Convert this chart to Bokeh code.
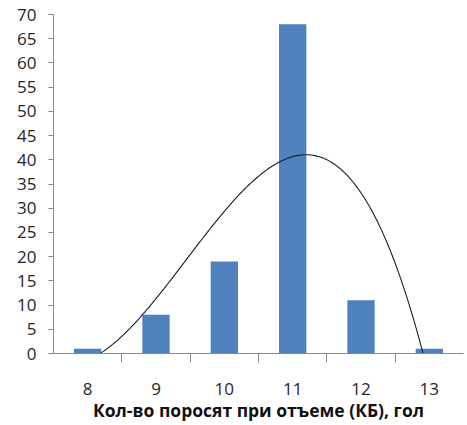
import numpy as np
from bokeh.plotting import figure
from bokeh.models import FixedTicker, Range1d
from bokeh.embed import file_html
from bokeh.resources import INLINE

# Data
piglets = [8, 9, 10, 11, 12, 13]          # categories (number of piglets at weaning)
counts = [1, 8, 19, 68, 11, 1]            # bar heights
y_ticks = [0, 5, 10, 15, 20, 25, 30, 35, 40, 45, 50, 55, 60, 65, 70]
x_label = "Кол-во поросят при отъеме (КБ), гол"

p = figure(width=467, height=425, output_backend="svg", toolbar_location=None,
           x_range=Range1d(7.5, 13.5), y_range=Range1d(0, 70),
           min_border_left=53, min_border_right=4, min_border_top=14,
           min_border_bottom=72)
p.outline_line_color = None
p.xgrid.visible = False
p.ygrid.visible = False
p.styles = {"outline": "2px solid #8c8c8c", "outline-offset": "-3px"}

p.vbar(x=piglets, top=counts, width=0.4, fill_color="#4F81BD", line_color=None)

# polynomial (3rd order) trendline of the bar data, as in the original chart
coef = np.polyfit(piglets, counts, 3)
xs = np.linspace(piglets[0], piglets[-1], 300)
p.line(xs, np.polyval(coef, xs), line_color="#1c1c2c", line_width=1.1)

axis_col = "#8a8a8a"
label_col = "#262626"

xa = p.xaxis[0]
xa.ticker = FixedTicker(ticks=piglets, minor_ticks=[v + 0.5 for v in piglets[:-1]])
xa.axis_line_color = axis_col
xa.major_tick_out = 0
xa.major_tick_in = 0
xa.minor_tick_out = 9
xa.minor_tick_in = 0
xa.minor_tick_line_color = axis_col
xa.major_label_text_font = "Open Sans"
xa.major_label_text_font_size = "17px"
xa.major_label_text_color = label_col
xa.major_label_standoff = 20
xa.axis_label = x_label
xa.axis_label_text_font = "Open Sans"
xa.axis_label_text_font_style = "bold"
xa.axis_label_text_font_size = "17.5px"
xa.axis_label_text_color = "#111111"
xa.axis_label_standoff = 0

ya = p.yaxis[0]
ya.ticker = FixedTicker(ticks=y_ticks, minor_ticks=[])
ya.axis_line_color = axis_col
ya.major_tick_out = 5
ya.major_tick_in = 0
ya.major_tick_line_color = axis_col
ya.minor_tick_out = 0
ya.minor_tick_in = 0
ya.major_label_text_font = "Open Sans"
ya.major_label_text_font_size = "17px"
ya.major_label_text_color = label_col
ya.major_label_standoff = 12

open("out.html", "w").write(file_html(p, INLINE))
